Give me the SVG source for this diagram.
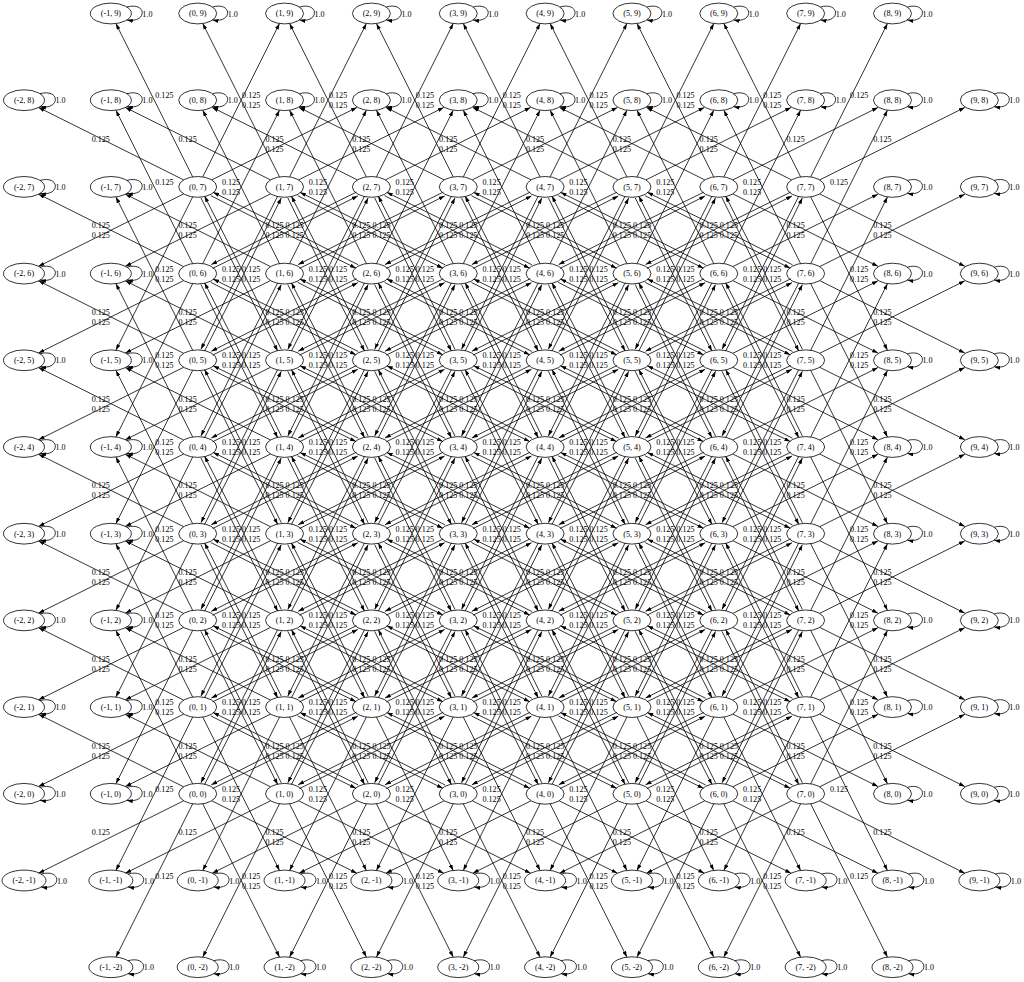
<svg xmlns="http://www.w3.org/2000/svg" width="1024" height="982" viewBox="0 0 1024 982">
<style>
text{font-family:"Liberation Serif","Times New Roman",serif;font-size:8.1px;fill:#000}
.n ellipse{fill:none;stroke:#000;stroke-width:0.8}
.n text{text-anchor:middle}
.e path{fill:none;stroke:#000;stroke-width:0.8;marker-end:url(#ah)}
.ll text{text-anchor:end}
</style>
<defs>
<marker id="ah" viewBox="0 0 6 4" refX="6" refY="2" markerWidth="6" markerHeight="4" orient="auto" markerUnits="userSpaceOnUse"><path d="M0,0L6,2L0,4z" fill="#000"/></marker>
</defs>
<rect width="1024" height="982" fill="#fff"/>
<g id="connectors" class="e">
<g id="e0_0" transform="translate(197.7,793.8)"><path d="M6.81,-9.12Q46.11,-85.36 83.58,-162.39"/><path d="M-5.02,-10.02L-81.79,-163.29"/><path d="M5.02,10.02L81.79,163.29"/><path d="M-5.02,10.02L-81.79,163.29"/><path d="M14.94,-5.22Q88.19,-40.67 160.09,-77.67"/><path d="M-14.05,-7.01L-159.2,-79.46"/><path d="M14.05,7.01L159.2,79.46"/><path d="M-14.05,7.01L-159.2,79.46"/></g>
<g id="e1_0" transform="translate(284.55,793.8)"><path d="M6.81,-9.12Q46.11,-85.36 83.58,-162.39"/><path d="M-3.23,-10.92Q-40.74,-88.04 -80,-164.19"/><path d="M5.02,10.02L81.79,163.29"/><path d="M-5.02,10.02L-81.79,163.29"/><path d="M14.94,-5.22Q88.19,-40.67 160.09,-77.67"/><path d="M-14.05,-7.01L-159.2,-79.46"/><path d="M14.05,7.01L159.2,79.46"/><path d="M-14.05,7.01L-159.2,79.46"/></g>
<g id="e2_0" transform="translate(371.4,793.8)"><path d="M6.81,-9.12Q46.11,-85.36 83.58,-162.39"/><path d="M-3.23,-10.92Q-40.74,-88.04 -80,-164.19"/><path d="M5.02,10.02L81.79,163.29"/><path d="M-5.02,10.02L-81.79,163.29"/><path d="M14.94,-5.22Q88.19,-40.67 160.09,-77.67"/><path d="M-13.16,-8.8Q-85.51,-46.03 -158.31,-81.25"/><path d="M14.05,7.01L159.2,79.46"/><path d="M-14.05,7.01L-159.2,79.46"/></g>
<g id="e3_0" transform="translate(458.25,793.8)"><path d="M6.81,-9.12Q46.11,-85.36 83.58,-162.39"/><path d="M-3.23,-10.92Q-40.74,-88.04 -80,-164.19"/><path d="M5.02,10.02L81.79,163.29"/><path d="M-5.02,10.02L-81.79,163.29"/><path d="M14.94,-5.22Q88.19,-40.67 160.09,-77.67"/><path d="M-13.16,-8.8Q-85.51,-46.03 -158.31,-81.25"/><path d="M14.05,7.01L159.2,79.46"/><path d="M-14.05,7.01L-159.2,79.46"/></g>
<g id="e4_0" transform="translate(545.1,793.8)"><path d="M6.81,-9.12Q46.11,-85.36 83.58,-162.39"/><path d="M-3.23,-10.92Q-40.74,-88.04 -80,-164.19"/><path d="M5.02,10.02L81.79,163.29"/><path d="M-5.02,10.02L-81.79,163.29"/><path d="M14.94,-5.22Q88.19,-40.67 160.09,-77.67"/><path d="M-13.16,-8.8Q-85.51,-46.03 -158.31,-81.25"/><path d="M14.05,7.01L159.2,79.46"/><path d="M-14.05,7.01L-159.2,79.46"/></g>
<g id="e5_0" transform="translate(631.95,793.8)"><path d="M6.81,-9.12Q46.11,-85.36 83.58,-162.39"/><path d="M-3.23,-10.92Q-40.74,-88.04 -80,-164.19"/><path d="M5.02,10.02L81.79,163.29"/><path d="M-5.02,10.02L-81.79,163.29"/><path d="M14.94,-5.22Q88.19,-40.67 160.09,-77.67"/><path d="M-13.16,-8.8Q-85.51,-46.03 -158.31,-81.25"/><path d="M14.05,7.01L159.2,79.46"/><path d="M-14.05,7.01L-159.2,79.46"/></g>
<g id="e6_0" transform="translate(718.8,793.8)"><path d="M6.81,-9.12Q46.11,-85.36 83.58,-162.39"/><path d="M-3.23,-10.92Q-40.74,-88.04 -80,-164.19"/><path d="M5.02,10.02L81.79,163.29"/><path d="M-5.02,10.02L-81.79,163.29"/><path d="M14.05,-7.01L159.2,-79.46"/><path d="M-13.16,-8.8Q-85.51,-46.03 -158.31,-81.25"/><path d="M14.05,7.01L159.2,79.46"/><path d="M-14.05,7.01L-159.2,79.46"/></g>
<g id="e7_0" transform="translate(805.65,793.8)"><path d="M5.02,-10.02L81.79,-163.29"/><path d="M-3.23,-10.92Q-40.74,-88.04 -80,-164.19"/><path d="M5.02,10.02L81.79,163.29"/><path d="M-5.02,10.02L-81.79,163.29"/><path d="M14.05,-7.01L159.2,-79.46"/><path d="M-13.16,-8.8Q-85.51,-46.03 -158.31,-81.25"/><path d="M14.05,7.01L159.2,79.46"/><path d="M-14.05,7.01L-159.2,79.46"/></g>
<g id="e0_1" transform="translate(197.7,707.1)"><path d="M6.81,-9.12Q46.11,-85.36 83.58,-162.39"/><path d="M-5.02,-10.02L-81.79,-163.29"/><path d="M5.02,10.02L81.79,163.29"/><path d="M-5.02,10.02L-81.79,163.29"/><path d="M14.94,-5.22Q88.19,-40.67 160.09,-77.67"/><path d="M-14.05,-7.01L-159.2,-79.46"/><path d="M13.16,8.8Q85.51,46.03 158.31,81.25"/><path d="M-14.05,7.01L-159.2,79.46"/></g>
<g id="e1_1" transform="translate(284.55,707.1)"><path d="M6.81,-9.12Q46.11,-85.36 83.58,-162.39"/><path d="M-3.23,-10.92Q-40.74,-88.04 -80,-164.19"/><path d="M5.02,10.02L81.79,163.29"/><path d="M-5.02,10.02L-81.79,163.29"/><path d="M14.94,-5.22Q88.19,-40.67 160.09,-77.67"/><path d="M-14.05,-7.01L-159.2,-79.46"/><path d="M13.16,8.8Q85.51,46.03 158.31,81.25"/><path d="M-14.05,7.01L-159.2,79.46"/></g>
<g id="e2_1" transform="translate(371.4,707.1)"><path d="M6.81,-9.12Q46.11,-85.36 83.58,-162.39"/><path d="M-3.23,-10.92Q-40.74,-88.04 -80,-164.19"/><path d="M5.02,10.02L81.79,163.29"/><path d="M-5.02,10.02L-81.79,163.29"/><path d="M14.94,-5.22Q88.19,-40.67 160.09,-77.67"/><path d="M-13.16,-8.8Q-85.51,-46.03 -158.31,-81.25"/><path d="M13.16,8.8Q85.51,46.03 158.31,81.25"/><path d="M-14.94,5.22Q-88.19,40.67 -160.09,77.67"/></g>
<g id="e3_1" transform="translate(458.25,707.1)"><path d="M6.81,-9.12Q46.11,-85.36 83.58,-162.39"/><path d="M-3.23,-10.92Q-40.74,-88.04 -80,-164.19"/><path d="M5.02,10.02L81.79,163.29"/><path d="M-5.02,10.02L-81.79,163.29"/><path d="M14.94,-5.22Q88.19,-40.67 160.09,-77.67"/><path d="M-13.16,-8.8Q-85.51,-46.03 -158.31,-81.25"/><path d="M13.16,8.8Q85.51,46.03 158.31,81.25"/><path d="M-14.94,5.22Q-88.19,40.67 -160.09,77.67"/></g>
<g id="e4_1" transform="translate(545.1,707.1)"><path d="M6.81,-9.12Q46.11,-85.36 83.58,-162.39"/><path d="M-3.23,-10.92Q-40.74,-88.04 -80,-164.19"/><path d="M5.02,10.02L81.79,163.29"/><path d="M-5.02,10.02L-81.79,163.29"/><path d="M14.94,-5.22Q88.19,-40.67 160.09,-77.67"/><path d="M-13.16,-8.8Q-85.51,-46.03 -158.31,-81.25"/><path d="M13.16,8.8Q85.51,46.03 158.31,81.25"/><path d="M-14.94,5.22Q-88.19,40.67 -160.09,77.67"/></g>
<g id="e5_1" transform="translate(631.95,707.1)"><path d="M6.81,-9.12Q46.11,-85.36 83.58,-162.39"/><path d="M-3.23,-10.92Q-40.74,-88.04 -80,-164.19"/><path d="M5.02,10.02L81.79,163.29"/><path d="M-5.02,10.02L-81.79,163.29"/><path d="M14.94,-5.22Q88.19,-40.67 160.09,-77.67"/><path d="M-13.16,-8.8Q-85.51,-46.03 -158.31,-81.25"/><path d="M13.16,8.8Q85.51,46.03 158.31,81.25"/><path d="M-14.94,5.22Q-88.19,40.67 -160.09,77.67"/></g>
<g id="e6_1" transform="translate(718.8,707.1)"><path d="M6.81,-9.12Q46.11,-85.36 83.58,-162.39"/><path d="M-3.23,-10.92Q-40.74,-88.04 -80,-164.19"/><path d="M5.02,10.02L81.79,163.29"/><path d="M-5.02,10.02L-81.79,163.29"/><path d="M14.05,-7.01L159.2,-79.46"/><path d="M-13.16,-8.8Q-85.51,-46.03 -158.31,-81.25"/><path d="M14.05,7.01L159.2,79.46"/><path d="M-14.94,5.22Q-88.19,40.67 -160.09,77.67"/></g>
<g id="e7_1" transform="translate(805.65,707.1)"><path d="M5.02,-10.02L81.79,-163.29"/><path d="M-3.23,-10.92Q-40.74,-88.04 -80,-164.19"/><path d="M5.02,10.02L81.79,163.29"/><path d="M-5.02,10.02L-81.79,163.29"/><path d="M14.05,-7.01L159.2,-79.46"/><path d="M-13.16,-8.8Q-85.51,-46.03 -158.31,-81.25"/><path d="M14.05,7.01L159.2,79.46"/><path d="M-14.94,5.22Q-88.19,40.67 -160.09,77.67"/></g>
<g id="e0_2" transform="translate(197.7,620.4)"><path d="M6.81,-9.12Q46.11,-85.36 83.58,-162.39"/><path d="M-5.02,-10.02L-81.79,-163.29"/><path d="M3.23,10.92Q40.74,88.04 80,164.19"/><path d="M-5.02,10.02L-81.79,163.29"/><path d="M14.94,-5.22Q88.19,-40.67 160.09,-77.67"/><path d="M-14.05,-7.01L-159.2,-79.46"/><path d="M13.16,8.8Q85.51,46.03 158.31,81.25"/><path d="M-14.05,7.01L-159.2,79.46"/></g>
<g id="e1_2" transform="translate(284.55,620.4)"><path d="M6.81,-9.12Q46.11,-85.36 83.58,-162.39"/><path d="M-3.23,-10.92Q-40.74,-88.04 -80,-164.19"/><path d="M3.23,10.92Q40.74,88.04 80,164.19"/><path d="M-6.81,9.12Q-46.11,85.36 -83.58,162.39"/><path d="M14.94,-5.22Q88.19,-40.67 160.09,-77.67"/><path d="M-14.05,-7.01L-159.2,-79.46"/><path d="M13.16,8.8Q85.51,46.03 158.31,81.25"/><path d="M-14.05,7.01L-159.2,79.46"/></g>
<g id="e2_2" transform="translate(371.4,620.4)"><path d="M6.81,-9.12Q46.11,-85.36 83.58,-162.39"/><path d="M-3.23,-10.92Q-40.74,-88.04 -80,-164.19"/><path d="M3.23,10.92Q40.74,88.04 80,164.19"/><path d="M-6.81,9.12Q-46.11,85.36 -83.58,162.39"/><path d="M14.94,-5.22Q88.19,-40.67 160.09,-77.67"/><path d="M-13.16,-8.8Q-85.51,-46.03 -158.31,-81.25"/><path d="M13.16,8.8Q85.51,46.03 158.31,81.25"/><path d="M-14.94,5.22Q-88.19,40.67 -160.09,77.67"/></g>
<g id="e3_2" transform="translate(458.25,620.4)"><path d="M6.81,-9.12Q46.11,-85.36 83.58,-162.39"/><path d="M-3.23,-10.92Q-40.74,-88.04 -80,-164.19"/><path d="M3.23,10.92Q40.74,88.04 80,164.19"/><path d="M-6.81,9.12Q-46.11,85.36 -83.58,162.39"/><path d="M14.94,-5.22Q88.19,-40.67 160.09,-77.67"/><path d="M-13.16,-8.8Q-85.51,-46.03 -158.31,-81.25"/><path d="M13.16,8.8Q85.51,46.03 158.31,81.25"/><path d="M-14.94,5.22Q-88.19,40.67 -160.09,77.67"/></g>
<g id="e4_2" transform="translate(545.1,620.4)"><path d="M6.81,-9.12Q46.11,-85.36 83.58,-162.39"/><path d="M-3.23,-10.92Q-40.74,-88.04 -80,-164.19"/><path d="M3.23,10.92Q40.74,88.04 80,164.19"/><path d="M-6.81,9.12Q-46.11,85.36 -83.58,162.39"/><path d="M14.94,-5.22Q88.19,-40.67 160.09,-77.67"/><path d="M-13.16,-8.8Q-85.51,-46.03 -158.31,-81.25"/><path d="M13.16,8.8Q85.51,46.03 158.31,81.25"/><path d="M-14.94,5.22Q-88.19,40.67 -160.09,77.67"/></g>
<g id="e5_2" transform="translate(631.95,620.4)"><path d="M6.81,-9.12Q46.11,-85.36 83.58,-162.39"/><path d="M-3.23,-10.92Q-40.74,-88.04 -80,-164.19"/><path d="M3.23,10.92Q40.74,88.04 80,164.19"/><path d="M-6.81,9.12Q-46.11,85.36 -83.58,162.39"/><path d="M14.94,-5.22Q88.19,-40.67 160.09,-77.67"/><path d="M-13.16,-8.8Q-85.51,-46.03 -158.31,-81.25"/><path d="M13.16,8.8Q85.51,46.03 158.31,81.25"/><path d="M-14.94,5.22Q-88.19,40.67 -160.09,77.67"/></g>
<g id="e6_2" transform="translate(718.8,620.4)"><path d="M6.81,-9.12Q46.11,-85.36 83.58,-162.39"/><path d="M-3.23,-10.92Q-40.74,-88.04 -80,-164.19"/><path d="M3.23,10.92Q40.74,88.04 80,164.19"/><path d="M-6.81,9.12Q-46.11,85.36 -83.58,162.39"/><path d="M14.05,-7.01L159.2,-79.46"/><path d="M-13.16,-8.8Q-85.51,-46.03 -158.31,-81.25"/><path d="M14.05,7.01L159.2,79.46"/><path d="M-14.94,5.22Q-88.19,40.67 -160.09,77.67"/></g>
<g id="e7_2" transform="translate(805.65,620.4)"><path d="M5.02,-10.02L81.79,-163.29"/><path d="M-3.23,-10.92Q-40.74,-88.04 -80,-164.19"/><path d="M5.02,10.02L81.79,163.29"/><path d="M-6.81,9.12Q-46.11,85.36 -83.58,162.39"/><path d="M14.05,-7.01L159.2,-79.46"/><path d="M-13.16,-8.8Q-85.51,-46.03 -158.31,-81.25"/><path d="M14.05,7.01L159.2,79.46"/><path d="M-14.94,5.22Q-88.19,40.67 -160.09,77.67"/></g>
<g id="e0_3" transform="translate(197.7,533.7)"><path d="M6.81,-9.12Q46.11,-85.36 83.58,-162.39"/><path d="M-5.02,-10.02L-81.79,-163.29"/><path d="M3.23,10.92Q40.74,88.04 80,164.19"/><path d="M-5.02,10.02L-81.79,163.29"/><path d="M14.94,-5.22Q88.19,-40.67 160.09,-77.67"/><path d="M-14.05,-7.01L-159.2,-79.46"/><path d="M13.16,8.8Q85.51,46.03 158.31,81.25"/><path d="M-14.05,7.01L-159.2,79.46"/></g>
<g id="e1_3" transform="translate(284.55,533.7)"><path d="M6.81,-9.12Q46.11,-85.36 83.58,-162.39"/><path d="M-3.23,-10.92Q-40.74,-88.04 -80,-164.19"/><path d="M3.23,10.92Q40.74,88.04 80,164.19"/><path d="M-6.81,9.12Q-46.11,85.36 -83.58,162.39"/><path d="M14.94,-5.22Q88.19,-40.67 160.09,-77.67"/><path d="M-14.05,-7.01L-159.2,-79.46"/><path d="M13.16,8.8Q85.51,46.03 158.31,81.25"/><path d="M-14.05,7.01L-159.2,79.46"/></g>
<g id="e2_3" transform="translate(371.4,533.7)"><path d="M6.81,-9.12Q46.11,-85.36 83.58,-162.39"/><path d="M-3.23,-10.92Q-40.74,-88.04 -80,-164.19"/><path d="M3.23,10.92Q40.74,88.04 80,164.19"/><path d="M-6.81,9.12Q-46.11,85.36 -83.58,162.39"/><path d="M14.94,-5.22Q88.19,-40.67 160.09,-77.67"/><path d="M-13.16,-8.8Q-85.51,-46.03 -158.31,-81.25"/><path d="M13.16,8.8Q85.51,46.03 158.31,81.25"/><path d="M-14.94,5.22Q-88.19,40.67 -160.09,77.67"/></g>
<g id="e3_3" transform="translate(458.25,533.7)"><path d="M6.81,-9.12Q46.11,-85.36 83.58,-162.39"/><path d="M-3.23,-10.92Q-40.74,-88.04 -80,-164.19"/><path d="M3.23,10.92Q40.74,88.04 80,164.19"/><path d="M-6.81,9.12Q-46.11,85.36 -83.58,162.39"/><path d="M14.94,-5.22Q88.19,-40.67 160.09,-77.67"/><path d="M-13.16,-8.8Q-85.51,-46.03 -158.31,-81.25"/><path d="M13.16,8.8Q85.51,46.03 158.31,81.25"/><path d="M-14.94,5.22Q-88.19,40.67 -160.09,77.67"/></g>
<g id="e4_3" transform="translate(545.1,533.7)"><path d="M6.81,-9.12Q46.11,-85.36 83.58,-162.39"/><path d="M-3.23,-10.92Q-40.74,-88.04 -80,-164.19"/><path d="M3.23,10.92Q40.74,88.04 80,164.19"/><path d="M-6.81,9.12Q-46.11,85.36 -83.58,162.39"/><path d="M14.94,-5.22Q88.19,-40.67 160.09,-77.67"/><path d="M-13.16,-8.8Q-85.51,-46.03 -158.31,-81.25"/><path d="M13.16,8.8Q85.51,46.03 158.31,81.25"/><path d="M-14.94,5.22Q-88.19,40.67 -160.09,77.67"/></g>
<g id="e5_3" transform="translate(631.95,533.7)"><path d="M6.81,-9.12Q46.11,-85.36 83.58,-162.39"/><path d="M-3.23,-10.92Q-40.74,-88.04 -80,-164.19"/><path d="M3.23,10.92Q40.74,88.04 80,164.19"/><path d="M-6.81,9.12Q-46.11,85.36 -83.58,162.39"/><path d="M14.94,-5.22Q88.19,-40.67 160.09,-77.67"/><path d="M-13.16,-8.8Q-85.51,-46.03 -158.31,-81.25"/><path d="M13.16,8.8Q85.51,46.03 158.31,81.25"/><path d="M-14.94,5.22Q-88.19,40.67 -160.09,77.67"/></g>
<g id="e6_3" transform="translate(718.8,533.7)"><path d="M6.81,-9.12Q46.11,-85.36 83.58,-162.39"/><path d="M-3.23,-10.92Q-40.74,-88.04 -80,-164.19"/><path d="M3.23,10.92Q40.74,88.04 80,164.19"/><path d="M-6.81,9.12Q-46.11,85.36 -83.58,162.39"/><path d="M14.05,-7.01L159.2,-79.46"/><path d="M-13.16,-8.8Q-85.51,-46.03 -158.31,-81.25"/><path d="M14.05,7.01L159.2,79.46"/><path d="M-14.94,5.22Q-88.19,40.67 -160.09,77.67"/></g>
<g id="e7_3" transform="translate(805.65,533.7)"><path d="M5.02,-10.02L81.79,-163.29"/><path d="M-3.23,-10.92Q-40.74,-88.04 -80,-164.19"/><path d="M5.02,10.02L81.79,163.29"/><path d="M-6.81,9.12Q-46.11,85.36 -83.58,162.39"/><path d="M14.05,-7.01L159.2,-79.46"/><path d="M-13.16,-8.8Q-85.51,-46.03 -158.31,-81.25"/><path d="M14.05,7.01L159.2,79.46"/><path d="M-14.94,5.22Q-88.19,40.67 -160.09,77.67"/></g>
<g id="e0_4" transform="translate(197.7,447)"><path d="M6.81,-9.12Q46.11,-85.36 83.58,-162.39"/><path d="M-5.02,-10.02L-81.79,-163.29"/><path d="M3.23,10.92Q40.74,88.04 80,164.19"/><path d="M-5.02,10.02L-81.79,163.29"/><path d="M14.94,-5.22Q88.19,-40.67 160.09,-77.67"/><path d="M-14.05,-7.01L-159.2,-79.46"/><path d="M13.16,8.8Q85.51,46.03 158.31,81.25"/><path d="M-14.05,7.01L-159.2,79.46"/></g>
<g id="e1_4" transform="translate(284.55,447)"><path d="M6.81,-9.12Q46.11,-85.36 83.58,-162.39"/><path d="M-3.23,-10.92Q-40.74,-88.04 -80,-164.19"/><path d="M3.23,10.92Q40.74,88.04 80,164.19"/><path d="M-6.81,9.12Q-46.11,85.36 -83.58,162.39"/><path d="M14.94,-5.22Q88.19,-40.67 160.09,-77.67"/><path d="M-14.05,-7.01L-159.2,-79.46"/><path d="M13.16,8.8Q85.51,46.03 158.31,81.25"/><path d="M-14.05,7.01L-159.2,79.46"/></g>
<g id="e2_4" transform="translate(371.4,447)"><path d="M6.81,-9.12Q46.11,-85.36 83.58,-162.39"/><path d="M-3.23,-10.92Q-40.74,-88.04 -80,-164.19"/><path d="M3.23,10.92Q40.74,88.04 80,164.19"/><path d="M-6.81,9.12Q-46.11,85.36 -83.58,162.39"/><path d="M14.94,-5.22Q88.19,-40.67 160.09,-77.67"/><path d="M-13.16,-8.8Q-85.51,-46.03 -158.31,-81.25"/><path d="M13.16,8.8Q85.51,46.03 158.31,81.25"/><path d="M-14.94,5.22Q-88.19,40.67 -160.09,77.67"/></g>
<g id="e3_4" transform="translate(458.25,447)"><path d="M6.81,-9.12Q46.11,-85.36 83.58,-162.39"/><path d="M-3.23,-10.92Q-40.74,-88.04 -80,-164.19"/><path d="M3.23,10.92Q40.74,88.04 80,164.19"/><path d="M-6.81,9.12Q-46.11,85.36 -83.58,162.39"/><path d="M14.94,-5.22Q88.19,-40.67 160.09,-77.67"/><path d="M-13.16,-8.8Q-85.51,-46.03 -158.31,-81.25"/><path d="M13.16,8.8Q85.51,46.03 158.31,81.25"/><path d="M-14.94,5.22Q-88.19,40.67 -160.09,77.67"/></g>
<g id="e4_4" transform="translate(545.1,447)"><path d="M6.81,-9.12Q46.11,-85.36 83.58,-162.39"/><path d="M-3.23,-10.92Q-40.74,-88.04 -80,-164.19"/><path d="M3.23,10.92Q40.74,88.04 80,164.19"/><path d="M-6.81,9.12Q-46.11,85.36 -83.58,162.39"/><path d="M14.94,-5.22Q88.19,-40.67 160.09,-77.67"/><path d="M-13.16,-8.8Q-85.51,-46.03 -158.31,-81.25"/><path d="M13.16,8.8Q85.51,46.03 158.31,81.25"/><path d="M-14.94,5.22Q-88.19,40.67 -160.09,77.67"/></g>
<g id="e5_4" transform="translate(631.95,447)"><path d="M6.81,-9.12Q46.11,-85.36 83.58,-162.39"/><path d="M-3.23,-10.92Q-40.74,-88.04 -80,-164.19"/><path d="M3.23,10.92Q40.74,88.04 80,164.19"/><path d="M-6.81,9.12Q-46.11,85.36 -83.58,162.39"/><path d="M14.94,-5.22Q88.19,-40.67 160.09,-77.67"/><path d="M-13.16,-8.8Q-85.51,-46.03 -158.31,-81.25"/><path d="M13.16,8.8Q85.51,46.03 158.31,81.25"/><path d="M-14.94,5.22Q-88.19,40.67 -160.09,77.67"/></g>
<g id="e6_4" transform="translate(718.8,447)"><path d="M6.81,-9.12Q46.11,-85.36 83.58,-162.39"/><path d="M-3.23,-10.92Q-40.74,-88.04 -80,-164.19"/><path d="M3.23,10.92Q40.74,88.04 80,164.19"/><path d="M-6.81,9.12Q-46.11,85.36 -83.58,162.39"/><path d="M14.05,-7.01L159.2,-79.46"/><path d="M-13.16,-8.8Q-85.51,-46.03 -158.31,-81.25"/><path d="M14.05,7.01L159.2,79.46"/><path d="M-14.94,5.22Q-88.19,40.67 -160.09,77.67"/></g>
<g id="e7_4" transform="translate(805.65,447)"><path d="M5.02,-10.02L81.79,-163.29"/><path d="M-3.23,-10.92Q-40.74,-88.04 -80,-164.19"/><path d="M5.02,10.02L81.79,163.29"/><path d="M-6.81,9.12Q-46.11,85.36 -83.58,162.39"/><path d="M14.05,-7.01L159.2,-79.46"/><path d="M-13.16,-8.8Q-85.51,-46.03 -158.31,-81.25"/><path d="M14.05,7.01L159.2,79.46"/><path d="M-14.94,5.22Q-88.19,40.67 -160.09,77.67"/></g>
<g id="e0_5" transform="translate(197.7,360.3)"><path d="M6.81,-9.12Q46.11,-85.36 83.58,-162.39"/><path d="M-5.02,-10.02L-81.79,-163.29"/><path d="M3.23,10.92Q40.74,88.04 80,164.19"/><path d="M-5.02,10.02L-81.79,163.29"/><path d="M14.94,-5.22Q88.19,-40.67 160.09,-77.67"/><path d="M-14.05,-7.01L-159.2,-79.46"/><path d="M13.16,8.8Q85.51,46.03 158.31,81.25"/><path d="M-14.05,7.01L-159.2,79.46"/></g>
<g id="e1_5" transform="translate(284.55,360.3)"><path d="M6.81,-9.12Q46.11,-85.36 83.58,-162.39"/><path d="M-3.23,-10.92Q-40.74,-88.04 -80,-164.19"/><path d="M3.23,10.92Q40.74,88.04 80,164.19"/><path d="M-6.81,9.12Q-46.11,85.36 -83.58,162.39"/><path d="M14.94,-5.22Q88.19,-40.67 160.09,-77.67"/><path d="M-14.05,-7.01L-159.2,-79.46"/><path d="M13.16,8.8Q85.51,46.03 158.31,81.25"/><path d="M-14.05,7.01L-159.2,79.46"/></g>
<g id="e2_5" transform="translate(371.4,360.3)"><path d="M6.81,-9.12Q46.11,-85.36 83.58,-162.39"/><path d="M-3.23,-10.92Q-40.74,-88.04 -80,-164.19"/><path d="M3.23,10.92Q40.74,88.04 80,164.19"/><path d="M-6.81,9.12Q-46.11,85.36 -83.58,162.39"/><path d="M14.94,-5.22Q88.19,-40.67 160.09,-77.67"/><path d="M-13.16,-8.8Q-85.51,-46.03 -158.31,-81.25"/><path d="M13.16,8.8Q85.51,46.03 158.31,81.25"/><path d="M-14.94,5.22Q-88.19,40.67 -160.09,77.67"/></g>
<g id="e3_5" transform="translate(458.25,360.3)"><path d="M6.81,-9.12Q46.11,-85.36 83.58,-162.39"/><path d="M-3.23,-10.92Q-40.74,-88.04 -80,-164.19"/><path d="M3.23,10.92Q40.74,88.04 80,164.19"/><path d="M-6.81,9.12Q-46.11,85.36 -83.58,162.39"/><path d="M14.94,-5.22Q88.19,-40.67 160.09,-77.67"/><path d="M-13.16,-8.8Q-85.51,-46.03 -158.31,-81.25"/><path d="M13.16,8.8Q85.51,46.03 158.31,81.25"/><path d="M-14.94,5.22Q-88.19,40.67 -160.09,77.67"/></g>
<g id="e4_5" transform="translate(545.1,360.3)"><path d="M6.81,-9.12Q46.11,-85.36 83.58,-162.39"/><path d="M-3.23,-10.92Q-40.74,-88.04 -80,-164.19"/><path d="M3.23,10.92Q40.74,88.04 80,164.19"/><path d="M-6.81,9.12Q-46.11,85.36 -83.58,162.39"/><path d="M14.94,-5.22Q88.19,-40.67 160.09,-77.67"/><path d="M-13.16,-8.8Q-85.51,-46.03 -158.31,-81.25"/><path d="M13.16,8.8Q85.51,46.03 158.31,81.25"/><path d="M-14.94,5.22Q-88.19,40.67 -160.09,77.67"/></g>
<g id="e5_5" transform="translate(631.95,360.3)"><path d="M6.81,-9.12Q46.11,-85.36 83.58,-162.39"/><path d="M-3.23,-10.92Q-40.74,-88.04 -80,-164.19"/><path d="M3.23,10.92Q40.74,88.04 80,164.19"/><path d="M-6.81,9.12Q-46.11,85.36 -83.58,162.39"/><path d="M14.94,-5.22Q88.19,-40.67 160.09,-77.67"/><path d="M-13.16,-8.8Q-85.51,-46.03 -158.31,-81.25"/><path d="M13.16,8.8Q85.51,46.03 158.31,81.25"/><path d="M-14.94,5.22Q-88.19,40.67 -160.09,77.67"/></g>
<g id="e6_5" transform="translate(718.8,360.3)"><path d="M6.81,-9.12Q46.11,-85.36 83.58,-162.39"/><path d="M-3.23,-10.92Q-40.74,-88.04 -80,-164.19"/><path d="M3.23,10.92Q40.74,88.04 80,164.19"/><path d="M-6.81,9.12Q-46.11,85.36 -83.58,162.39"/><path d="M14.05,-7.01L159.2,-79.46"/><path d="M-13.16,-8.8Q-85.51,-46.03 -158.31,-81.25"/><path d="M14.05,7.01L159.2,79.46"/><path d="M-14.94,5.22Q-88.19,40.67 -160.09,77.67"/></g>
<g id="e7_5" transform="translate(805.65,360.3)"><path d="M5.02,-10.02L81.79,-163.29"/><path d="M-3.23,-10.92Q-40.74,-88.04 -80,-164.19"/><path d="M5.02,10.02L81.79,163.29"/><path d="M-6.81,9.12Q-46.11,85.36 -83.58,162.39"/><path d="M14.05,-7.01L159.2,-79.46"/><path d="M-13.16,-8.8Q-85.51,-46.03 -158.31,-81.25"/><path d="M14.05,7.01L159.2,79.46"/><path d="M-14.94,5.22Q-88.19,40.67 -160.09,77.67"/></g>
<g id="e0_6" transform="translate(197.7,273.6)"><path d="M5.02,-10.02L81.79,-163.29"/><path d="M-5.02,-10.02L-81.79,-163.29"/><path d="M3.23,10.92Q40.74,88.04 80,164.19"/><path d="M-5.02,10.02L-81.79,163.29"/><path d="M14.94,-5.22Q88.19,-40.67 160.09,-77.67"/><path d="M-14.05,-7.01L-159.2,-79.46"/><path d="M13.16,8.8Q85.51,46.03 158.31,81.25"/><path d="M-14.05,7.01L-159.2,79.46"/></g>
<g id="e1_6" transform="translate(284.55,273.6)"><path d="M5.02,-10.02L81.79,-163.29"/><path d="M-5.02,-10.02L-81.79,-163.29"/><path d="M3.23,10.92Q40.74,88.04 80,164.19"/><path d="M-6.81,9.12Q-46.11,85.36 -83.58,162.39"/><path d="M14.94,-5.22Q88.19,-40.67 160.09,-77.67"/><path d="M-14.05,-7.01L-159.2,-79.46"/><path d="M13.16,8.8Q85.51,46.03 158.31,81.25"/><path d="M-14.05,7.01L-159.2,79.46"/></g>
<g id="e2_6" transform="translate(371.4,273.6)"><path d="M5.02,-10.02L81.79,-163.29"/><path d="M-5.02,-10.02L-81.79,-163.29"/><path d="M3.23,10.92Q40.74,88.04 80,164.19"/><path d="M-6.81,9.12Q-46.11,85.36 -83.58,162.39"/><path d="M14.94,-5.22Q88.19,-40.67 160.09,-77.67"/><path d="M-13.16,-8.8Q-85.51,-46.03 -158.31,-81.25"/><path d="M13.16,8.8Q85.51,46.03 158.31,81.25"/><path d="M-14.94,5.22Q-88.19,40.67 -160.09,77.67"/></g>
<g id="e3_6" transform="translate(458.25,273.6)"><path d="M5.02,-10.02L81.79,-163.29"/><path d="M-5.02,-10.02L-81.79,-163.29"/><path d="M3.23,10.92Q40.74,88.04 80,164.19"/><path d="M-6.81,9.12Q-46.11,85.36 -83.58,162.39"/><path d="M14.94,-5.22Q88.19,-40.67 160.09,-77.67"/><path d="M-13.16,-8.8Q-85.51,-46.03 -158.31,-81.25"/><path d="M13.16,8.8Q85.51,46.03 158.31,81.25"/><path d="M-14.94,5.22Q-88.19,40.67 -160.09,77.67"/></g>
<g id="e4_6" transform="translate(545.1,273.6)"><path d="M5.02,-10.02L81.79,-163.29"/><path d="M-5.02,-10.02L-81.79,-163.29"/><path d="M3.23,10.92Q40.74,88.04 80,164.19"/><path d="M-6.81,9.12Q-46.11,85.36 -83.58,162.39"/><path d="M14.94,-5.22Q88.19,-40.67 160.09,-77.67"/><path d="M-13.16,-8.8Q-85.51,-46.03 -158.31,-81.25"/><path d="M13.16,8.8Q85.51,46.03 158.31,81.25"/><path d="M-14.94,5.22Q-88.19,40.67 -160.09,77.67"/></g>
<g id="e5_6" transform="translate(631.95,273.6)"><path d="M5.02,-10.02L81.79,-163.29"/><path d="M-5.02,-10.02L-81.79,-163.29"/><path d="M3.23,10.92Q40.74,88.04 80,164.19"/><path d="M-6.81,9.12Q-46.11,85.36 -83.58,162.39"/><path d="M14.94,-5.22Q88.19,-40.67 160.09,-77.67"/><path d="M-13.16,-8.8Q-85.51,-46.03 -158.31,-81.25"/><path d="M13.16,8.8Q85.51,46.03 158.31,81.25"/><path d="M-14.94,5.22Q-88.19,40.67 -160.09,77.67"/></g>
<g id="e6_6" transform="translate(718.8,273.6)"><path d="M5.02,-10.02L81.79,-163.29"/><path d="M-5.02,-10.02L-81.79,-163.29"/><path d="M3.23,10.92Q40.74,88.04 80,164.19"/><path d="M-6.81,9.12Q-46.11,85.36 -83.58,162.39"/><path d="M14.05,-7.01L159.2,-79.46"/><path d="M-13.16,-8.8Q-85.51,-46.03 -158.31,-81.25"/><path d="M14.05,7.01L159.2,79.46"/><path d="M-14.94,5.22Q-88.19,40.67 -160.09,77.67"/></g>
<g id="e7_6" transform="translate(805.65,273.6)"><path d="M5.02,-10.02L81.79,-163.29"/><path d="M-5.02,-10.02L-81.79,-163.29"/><path d="M5.02,10.02L81.79,163.29"/><path d="M-6.81,9.12Q-46.11,85.36 -83.58,162.39"/><path d="M14.05,-7.01L159.2,-79.46"/><path d="M-13.16,-8.8Q-85.51,-46.03 -158.31,-81.25"/><path d="M14.05,7.01L159.2,79.46"/><path d="M-14.94,5.22Q-88.19,40.67 -160.09,77.67"/></g>
<g id="e0_7" transform="translate(197.7,186.9)"><path d="M5.02,-10.02L81.79,-163.29"/><path d="M-5.02,-10.02L-81.79,-163.29"/><path d="M3.23,10.92Q40.74,88.04 80,164.19"/><path d="M-5.02,10.02L-81.79,163.29"/><path d="M14.05,-7.01L159.2,-79.46"/><path d="M-14.05,-7.01L-159.2,-79.46"/><path d="M13.16,8.8Q85.51,46.03 158.31,81.25"/><path d="M-14.05,7.01L-159.2,79.46"/></g>
<g id="e1_7" transform="translate(284.55,186.9)"><path d="M5.02,-10.02L81.79,-163.29"/><path d="M-5.02,-10.02L-81.79,-163.29"/><path d="M3.23,10.92Q40.74,88.04 80,164.19"/><path d="M-6.81,9.12Q-46.11,85.36 -83.58,162.39"/><path d="M14.05,-7.01L159.2,-79.46"/><path d="M-14.05,-7.01L-159.2,-79.46"/><path d="M13.16,8.8Q85.51,46.03 158.31,81.25"/><path d="M-14.05,7.01L-159.2,79.46"/></g>
<g id="e2_7" transform="translate(371.4,186.9)"><path d="M5.02,-10.02L81.79,-163.29"/><path d="M-5.02,-10.02L-81.79,-163.29"/><path d="M3.23,10.92Q40.74,88.04 80,164.19"/><path d="M-6.81,9.12Q-46.11,85.36 -83.58,162.39"/><path d="M14.05,-7.01L159.2,-79.46"/><path d="M-14.05,-7.01L-159.2,-79.46"/><path d="M13.16,8.8Q85.51,46.03 158.31,81.25"/><path d="M-14.94,5.22Q-88.19,40.67 -160.09,77.67"/></g>
<g id="e3_7" transform="translate(458.25,186.9)"><path d="M5.02,-10.02L81.79,-163.29"/><path d="M-5.02,-10.02L-81.79,-163.29"/><path d="M3.23,10.92Q40.74,88.04 80,164.19"/><path d="M-6.81,9.12Q-46.11,85.36 -83.58,162.39"/><path d="M14.05,-7.01L159.2,-79.46"/><path d="M-14.05,-7.01L-159.2,-79.46"/><path d="M13.16,8.8Q85.51,46.03 158.31,81.25"/><path d="M-14.94,5.22Q-88.19,40.67 -160.09,77.67"/></g>
<g id="e4_7" transform="translate(545.1,186.9)"><path d="M5.02,-10.02L81.79,-163.29"/><path d="M-5.02,-10.02L-81.79,-163.29"/><path d="M3.23,10.92Q40.74,88.04 80,164.19"/><path d="M-6.81,9.12Q-46.11,85.36 -83.58,162.39"/><path d="M14.05,-7.01L159.2,-79.46"/><path d="M-14.05,-7.01L-159.2,-79.46"/><path d="M13.16,8.8Q85.51,46.03 158.31,81.25"/><path d="M-14.94,5.22Q-88.19,40.67 -160.09,77.67"/></g>
<g id="e5_7" transform="translate(631.95,186.9)"><path d="M5.02,-10.02L81.79,-163.29"/><path d="M-5.02,-10.02L-81.79,-163.29"/><path d="M3.23,10.92Q40.74,88.04 80,164.19"/><path d="M-6.81,9.12Q-46.11,85.36 -83.58,162.39"/><path d="M14.05,-7.01L159.2,-79.46"/><path d="M-14.05,-7.01L-159.2,-79.46"/><path d="M13.16,8.8Q85.51,46.03 158.31,81.25"/><path d="M-14.94,5.22Q-88.19,40.67 -160.09,77.67"/></g>
<g id="e6_7" transform="translate(718.8,186.9)"><path d="M5.02,-10.02L81.79,-163.29"/><path d="M-5.02,-10.02L-81.79,-163.29"/><path d="M3.23,10.92Q40.74,88.04 80,164.19"/><path d="M-6.81,9.12Q-46.11,85.36 -83.58,162.39"/><path d="M14.05,-7.01L159.2,-79.46"/><path d="M-14.05,-7.01L-159.2,-79.46"/><path d="M14.05,7.01L159.2,79.46"/><path d="M-14.94,5.22Q-88.19,40.67 -160.09,77.67"/></g>
<g id="e7_7" transform="translate(805.65,186.9)"><path d="M5.02,-10.02L81.79,-163.29"/><path d="M-5.02,-10.02L-81.79,-163.29"/><path d="M5.02,10.02L81.79,163.29"/><path d="M-6.81,9.12Q-46.11,85.36 -83.58,162.39"/><path d="M14.05,-7.01L159.2,-79.46"/><path d="M-14.05,-7.01L-159.2,-79.46"/><path d="M14.05,7.01L159.2,79.46"/><path d="M-14.94,5.22Q-88.19,40.67 -160.09,77.67"/></g>
<g id="self-loops">
<path transform="translate(110.85,13.5)" d="M16,-6.5C36.5,-12 36.5,10 16,6.5"/><path transform="translate(197.7,13.5)" d="M14.8,-6.5C35,-12 35,10 14.8,6.5"/><path transform="translate(284.55,13.5)" d="M14.8,-6.5C35,-12 35,10 14.8,6.5"/><path transform="translate(371.4,13.5)" d="M14.8,-6.5C35,-12 35,10 14.8,6.5"/><path transform="translate(458.25,13.5)" d="M14.8,-6.5C35,-12 35,10 14.8,6.5"/><path transform="translate(545.1,13.5)" d="M14.8,-6.5C35,-12 35,10 14.8,6.5"/><path transform="translate(631.95,13.5)" d="M14.8,-6.5C35,-12 35,10 14.8,6.5"/><path transform="translate(718.8,13.5)" d="M14.8,-6.5C35,-12 35,10 14.8,6.5"/><path transform="translate(805.65,13.5)" d="M14.8,-6.5C35,-12 35,10 14.8,6.5"/><path transform="translate(892.5,13.5)" d="M14.8,-6.5C35,-12 35,10 14.8,6.5"/>
<path transform="translate(24,100.2)" d="M16,-6.5C36.5,-12 36.5,10 16,6.5"/><path transform="translate(110.85,100.2)" d="M16,-6.5C36.5,-12 36.5,10 16,6.5"/><path transform="translate(197.7,100.2)" d="M14.8,-6.5C35,-12 35,10 14.8,6.5"/><path transform="translate(284.55,100.2)" d="M14.8,-6.5C35,-12 35,10 14.8,6.5"/><path transform="translate(371.4,100.2)" d="M14.8,-6.5C35,-12 35,10 14.8,6.5"/><path transform="translate(458.25,100.2)" d="M14.8,-6.5C35,-12 35,10 14.8,6.5"/><path transform="translate(545.1,100.2)" d="M14.8,-6.5C35,-12 35,10 14.8,6.5"/><path transform="translate(631.95,100.2)" d="M14.8,-6.5C35,-12 35,10 14.8,6.5"/><path transform="translate(718.8,100.2)" d="M14.8,-6.5C35,-12 35,10 14.8,6.5"/><path transform="translate(805.65,100.2)" d="M14.8,-6.5C35,-12 35,10 14.8,6.5"/><path transform="translate(892.5,100.2)" d="M14.8,-6.5C35,-12 35,10 14.8,6.5"/><path transform="translate(979.35,100.2)" d="M14.8,-6.5C35,-12 35,10 14.8,6.5"/>
<path transform="translate(24,186.9)" d="M16,-6.5C36.5,-12 36.5,10 16,6.5"/><path transform="translate(110.85,186.9)" d="M16,-6.5C36.5,-12 36.5,10 16,6.5"/><path transform="translate(892.5,186.9)" d="M14.8,-6.5C35,-12 35,10 14.8,6.5"/><path transform="translate(979.35,186.9)" d="M14.8,-6.5C35,-12 35,10 14.8,6.5"/>
<path transform="translate(24,273.6)" d="M16,-6.5C36.5,-12 36.5,10 16,6.5"/><path transform="translate(110.85,273.6)" d="M16,-6.5C36.5,-12 36.5,10 16,6.5"/><path transform="translate(892.5,273.6)" d="M14.8,-6.5C35,-12 35,10 14.8,6.5"/><path transform="translate(979.35,273.6)" d="M14.8,-6.5C35,-12 35,10 14.8,6.5"/>
<path transform="translate(24,360.3)" d="M16,-6.5C36.5,-12 36.5,10 16,6.5"/><path transform="translate(110.85,360.3)" d="M16,-6.5C36.5,-12 36.5,10 16,6.5"/><path transform="translate(892.5,360.3)" d="M14.8,-6.5C35,-12 35,10 14.8,6.5"/><path transform="translate(979.35,360.3)" d="M14.8,-6.5C35,-12 35,10 14.8,6.5"/>
<path transform="translate(24,447)" d="M16,-6.5C36.5,-12 36.5,10 16,6.5"/><path transform="translate(110.85,447)" d="M16,-6.5C36.5,-12 36.5,10 16,6.5"/><path transform="translate(892.5,447)" d="M14.8,-6.5C35,-12 35,10 14.8,6.5"/><path transform="translate(979.35,447)" d="M14.8,-6.5C35,-12 35,10 14.8,6.5"/>
<path transform="translate(24,533.7)" d="M16,-6.5C36.5,-12 36.5,10 16,6.5"/><path transform="translate(110.85,533.7)" d="M16,-6.5C36.5,-12 36.5,10 16,6.5"/><path transform="translate(892.5,533.7)" d="M14.8,-6.5C35,-12 35,10 14.8,6.5"/><path transform="translate(979.35,533.7)" d="M14.8,-6.5C35,-12 35,10 14.8,6.5"/>
<path transform="translate(24,620.4)" d="M16,-6.5C36.5,-12 36.5,10 16,6.5"/><path transform="translate(110.85,620.4)" d="M16,-6.5C36.5,-12 36.5,10 16,6.5"/><path transform="translate(892.5,620.4)" d="M14.8,-6.5C35,-12 35,10 14.8,6.5"/><path transform="translate(979.35,620.4)" d="M14.8,-6.5C35,-12 35,10 14.8,6.5"/>
<path transform="translate(24,707.1)" d="M16,-6.5C36.5,-12 36.5,10 16,6.5"/><path transform="translate(110.85,707.1)" d="M16,-6.5C36.5,-12 36.5,10 16,6.5"/><path transform="translate(892.5,707.1)" d="M14.8,-6.5C35,-12 35,10 14.8,6.5"/><path transform="translate(979.35,707.1)" d="M14.8,-6.5C35,-12 35,10 14.8,6.5"/>
<path transform="translate(24,793.8)" d="M16,-6.5C36.5,-12 36.5,10 16,6.5"/><path transform="translate(110.85,793.8)" d="M16,-6.5C36.5,-12 36.5,10 16,6.5"/><path transform="translate(892.5,793.8)" d="M14.8,-6.5C35,-12 35,10 14.8,6.5"/><path transform="translate(979.35,793.8)" d="M14.8,-6.5C35,-12 35,10 14.8,6.5"/>
<path transform="translate(24,880.5)" d="M17.2,-6.5C38,-12 38,10 17.2,6.5"/><path transform="translate(110.85,880.5)" d="M17.2,-6.5C38,-12 38,10 17.2,6.5"/><path transform="translate(197.7,880.5)" d="M16,-6.5C36.5,-12 36.5,10 16,6.5"/><path transform="translate(284.55,880.5)" d="M16,-6.5C36.5,-12 36.5,10 16,6.5"/><path transform="translate(371.4,880.5)" d="M16,-6.5C36.5,-12 36.5,10 16,6.5"/><path transform="translate(458.25,880.5)" d="M16,-6.5C36.5,-12 36.5,10 16,6.5"/><path transform="translate(545.1,880.5)" d="M16,-6.5C36.5,-12 36.5,10 16,6.5"/><path transform="translate(631.95,880.5)" d="M16,-6.5C36.5,-12 36.5,10 16,6.5"/><path transform="translate(718.8,880.5)" d="M16,-6.5C36.5,-12 36.5,10 16,6.5"/><path transform="translate(805.65,880.5)" d="M16,-6.5C36.5,-12 36.5,10 16,6.5"/><path transform="translate(892.5,880.5)" d="M16,-6.5C36.5,-12 36.5,10 16,6.5"/><path transform="translate(979.35,880.5)" d="M16,-6.5C36.5,-12 36.5,10 16,6.5"/>
<path transform="translate(110.85,967.2)" d="M17.2,-6.5C38,-12 38,10 17.2,6.5"/><path transform="translate(197.7,967.2)" d="M16,-6.5C36.5,-12 36.5,10 16,6.5"/><path transform="translate(284.55,967.2)" d="M16,-6.5C36.5,-12 36.5,10 16,6.5"/><path transform="translate(371.4,967.2)" d="M16,-6.5C36.5,-12 36.5,10 16,6.5"/><path transform="translate(458.25,967.2)" d="M16,-6.5C36.5,-12 36.5,10 16,6.5"/><path transform="translate(545.1,967.2)" d="M16,-6.5C36.5,-12 36.5,10 16,6.5"/><path transform="translate(631.95,967.2)" d="M16,-6.5C36.5,-12 36.5,10 16,6.5"/><path transform="translate(718.8,967.2)" d="M16,-6.5C36.5,-12 36.5,10 16,6.5"/><path transform="translate(805.65,967.2)" d="M16,-6.5C36.5,-12 36.5,10 16,6.5"/><path transform="translate(892.5,967.2)" d="M16,-6.5C36.5,-12 36.5,10 16,6.5"/>
</g>
<g id="loop-labels">
<text x="142.35" y="16.5">1.0</text><text x="227.7" y="16.5">1.0</text><text x="314.55" y="16.5">1.0</text><text x="401.4" y="16.5">1.0</text><text x="488.25" y="16.5">1.0</text><text x="575.1" y="16.5">1.0</text><text x="661.95" y="16.5">1.0</text><text x="748.8" y="16.5">1.0</text><text x="835.65" y="16.5">1.0</text><text x="922.5" y="16.5">1.0</text>
<text x="55.5" y="103.2">1.0</text><text x="142.35" y="103.2">1.0</text><text x="227.7" y="103.2">1.0</text><text x="314.55" y="103.2">1.0</text><text x="401.4" y="103.2">1.0</text><text x="488.25" y="103.2">1.0</text><text x="575.1" y="103.2">1.0</text><text x="661.95" y="103.2">1.0</text><text x="748.8" y="103.2">1.0</text><text x="835.65" y="103.2">1.0</text><text x="922.5" y="103.2">1.0</text><text x="1009.35" y="103.2">1.0</text>
<text x="55.5" y="189.9">1.0</text><text x="142.35" y="189.9">1.0</text><text x="922.5" y="189.9">1.0</text><text x="1009.35" y="189.9">1.0</text>
<text x="55.5" y="276.6">1.0</text><text x="142.35" y="276.6">1.0</text><text x="922.5" y="276.6">1.0</text><text x="1009.35" y="276.6">1.0</text>
<text x="55.5" y="363.3">1.0</text><text x="142.35" y="363.3">1.0</text><text x="922.5" y="363.3">1.0</text><text x="1009.35" y="363.3">1.0</text>
<text x="55.5" y="450">1.0</text><text x="142.35" y="450">1.0</text><text x="922.5" y="450">1.0</text><text x="1009.35" y="450">1.0</text>
<text x="55.5" y="536.7">1.0</text><text x="142.35" y="536.7">1.0</text><text x="922.5" y="536.7">1.0</text><text x="1009.35" y="536.7">1.0</text>
<text x="55.5" y="623.4">1.0</text><text x="142.35" y="623.4">1.0</text><text x="922.5" y="623.4">1.0</text><text x="1009.35" y="623.4">1.0</text>
<text x="55.5" y="710.1">1.0</text><text x="142.35" y="710.1">1.0</text><text x="922.5" y="710.1">1.0</text><text x="1009.35" y="710.1">1.0</text>
<text x="55.5" y="796.8">1.0</text><text x="142.35" y="796.8">1.0</text><text x="922.5" y="796.8">1.0</text><text x="1009.35" y="796.8">1.0</text>
<text x="57" y="883.5">1.0</text><text x="143.85" y="883.5">1.0</text><text x="229.2" y="883.5">1.0</text><text x="316.05" y="883.5">1.0</text><text x="402.9" y="883.5">1.0</text><text x="489.75" y="883.5">1.0</text><text x="576.6" y="883.5">1.0</text><text x="663.45" y="883.5">1.0</text><text x="750.3" y="883.5">1.0</text><text x="837.15" y="883.5">1.0</text><text x="924" y="883.5">1.0</text><text x="1010.85" y="883.5">1.0</text>
<text x="143.85" y="970.2">1.0</text><text x="229.2" y="970.2">1.0</text><text x="316.05" y="970.2">1.0</text><text x="402.9" y="970.2">1.0</text><text x="489.75" y="970.2">1.0</text><text x="576.6" y="970.2">1.0</text><text x="663.45" y="970.2">1.0</text><text x="750.3" y="970.2">1.0</text><text x="837.15" y="970.2">1.0</text><text x="924" y="970.2">1.0</text>
</g>
<g id="edge-labels">
<g class="lr">
<text x="155.3" y="98.2">0.125</text><text x="242.1" y="98.2">0.125</text><text x="242.1" y="108.2">0.125</text><text x="329" y="98.2">0.125</text><text x="329" y="108.2">0.125</text><text x="415.8" y="98.2">0.125</text><text x="415.8" y="108.2">0.125</text><text x="502.7" y="98.2">0.125</text><text x="502.7" y="108.2">0.125</text><text x="589.5" y="98.2">0.125</text><text x="589.5" y="108.2">0.125</text><text x="676.4" y="98.2">0.125</text><text x="676.4" y="108.2">0.125</text><text x="763.2" y="98.2">0.125</text><text x="763.2" y="108.2">0.125</text><text x="850.1" y="98.2">0.125</text>
<text x="155.3" y="184.9">0.125</text>
<text x="155.3" y="271.6">0.125</text><text x="155.3" y="281.6">0.125</text><text x="242.1" y="271.6">0.125</text><text x="242.1" y="281.6">0.125</text><text x="329" y="271.6">0.125</text><text x="329" y="281.6">0.125</text><text x="415.8" y="271.6">0.125</text><text x="415.8" y="281.6">0.125</text><text x="502.7" y="271.6">0.125</text><text x="502.7" y="281.6">0.125</text><text x="589.5" y="271.6">0.125</text><text x="589.5" y="281.6">0.125</text><text x="676.4" y="271.6">0.125</text><text x="676.4" y="281.6">0.125</text><text x="763.2" y="271.6">0.125</text><text x="763.2" y="281.6">0.125</text><text x="850.1" y="271.6">0.125</text><text x="850.1" y="281.6">0.125</text>
<text x="155.3" y="358.3">0.125</text><text x="155.3" y="368.3">0.125</text><text x="242.1" y="358.3">0.125</text><text x="242.1" y="368.3">0.125</text><text x="329" y="358.3">0.125</text><text x="329" y="368.3">0.125</text><text x="415.8" y="358.3">0.125</text><text x="415.8" y="368.3">0.125</text><text x="502.7" y="358.3">0.125</text><text x="502.7" y="368.3">0.125</text><text x="589.5" y="358.3">0.125</text><text x="589.5" y="368.3">0.125</text><text x="676.4" y="358.3">0.125</text><text x="676.4" y="368.3">0.125</text><text x="763.2" y="358.3">0.125</text><text x="763.2" y="368.3">0.125</text><text x="850.1" y="358.3">0.125</text><text x="850.1" y="368.3">0.125</text>
<text x="155.3" y="445">0.125</text><text x="155.3" y="455">0.125</text><text x="242.1" y="445">0.125</text><text x="242.1" y="455">0.125</text><text x="329" y="445">0.125</text><text x="329" y="455">0.125</text><text x="415.8" y="445">0.125</text><text x="415.8" y="455">0.125</text><text x="502.7" y="445">0.125</text><text x="502.7" y="455">0.125</text><text x="589.5" y="445">0.125</text><text x="589.5" y="455">0.125</text><text x="676.4" y="445">0.125</text><text x="676.4" y="455">0.125</text><text x="763.2" y="445">0.125</text><text x="763.2" y="455">0.125</text><text x="850.1" y="445">0.125</text><text x="850.1" y="455">0.125</text>
<text x="155.3" y="531.7">0.125</text><text x="155.3" y="541.7">0.125</text><text x="242.1" y="531.7">0.125</text><text x="242.1" y="541.7">0.125</text><text x="329" y="531.7">0.125</text><text x="329" y="541.7">0.125</text><text x="415.8" y="531.7">0.125</text><text x="415.8" y="541.7">0.125</text><text x="502.7" y="531.7">0.125</text><text x="502.7" y="541.7">0.125</text><text x="589.5" y="531.7">0.125</text><text x="589.5" y="541.7">0.125</text><text x="676.4" y="531.7">0.125</text><text x="676.4" y="541.7">0.125</text><text x="763.2" y="531.7">0.125</text><text x="763.2" y="541.7">0.125</text><text x="850.1" y="531.7">0.125</text><text x="850.1" y="541.7">0.125</text>
<text x="155.3" y="618.4">0.125</text><text x="155.3" y="628.4">0.125</text><text x="242.1" y="618.4">0.125</text><text x="242.1" y="628.4">0.125</text><text x="329" y="618.4">0.125</text><text x="329" y="628.4">0.125</text><text x="415.8" y="618.4">0.125</text><text x="415.8" y="628.4">0.125</text><text x="502.7" y="618.4">0.125</text><text x="502.7" y="628.4">0.125</text><text x="589.5" y="618.4">0.125</text><text x="589.5" y="628.4">0.125</text><text x="676.4" y="618.4">0.125</text><text x="676.4" y="628.4">0.125</text><text x="763.2" y="618.4">0.125</text><text x="763.2" y="628.4">0.125</text><text x="850.1" y="618.4">0.125</text><text x="850.1" y="628.4">0.125</text>
<text x="155.3" y="705.1">0.125</text><text x="155.3" y="715.1">0.125</text><text x="242.1" y="705.1">0.125</text><text x="242.1" y="715.1">0.125</text><text x="329" y="705.1">0.125</text><text x="329" y="715.1">0.125</text><text x="415.8" y="705.1">0.125</text><text x="415.8" y="715.1">0.125</text><text x="502.7" y="705.1">0.125</text><text x="502.7" y="715.1">0.125</text><text x="589.5" y="705.1">0.125</text><text x="589.5" y="715.1">0.125</text><text x="676.4" y="705.1">0.125</text><text x="676.4" y="715.1">0.125</text><text x="763.2" y="705.1">0.125</text><text x="763.2" y="715.1">0.125</text><text x="850.1" y="705.1">0.125</text><text x="850.1" y="715.1">0.125</text>
<text x="155.3" y="791.8">0.125</text>
<text x="155.3" y="878.5">0.125</text><text x="242.1" y="878.5">0.125</text><text x="242.1" y="888.5">0.125</text><text x="329" y="878.5">0.125</text><text x="329" y="888.5">0.125</text><text x="415.8" y="878.5">0.125</text><text x="415.8" y="888.5">0.125</text><text x="502.7" y="878.5">0.125</text><text x="502.7" y="888.5">0.125</text><text x="589.5" y="878.5">0.125</text><text x="589.5" y="888.5">0.125</text><text x="676.4" y="878.5">0.125</text><text x="676.4" y="888.5">0.125</text><text x="763.2" y="878.5">0.125</text><text x="763.2" y="888.5">0.125</text><text x="850.1" y="878.5">0.125</text>
<text x="285.6" y="228.3">0.125</text><text x="285.6" y="238.3">0.125</text><text x="372.4" y="228.3">0.125</text><text x="372.4" y="238.3">0.125</text><text x="459.3" y="228.3">0.125</text><text x="459.3" y="238.3">0.125</text><text x="546.1" y="228.3">0.125</text><text x="546.1" y="238.3">0.125</text><text x="633" y="228.3">0.125</text><text x="633" y="238.3">0.125</text><text x="719.8" y="228.3">0.125</text><text x="719.8" y="238.3">0.125</text>
<text x="285.6" y="315">0.125</text><text x="285.6" y="325">0.125</text><text x="372.4" y="315">0.125</text><text x="372.4" y="325">0.125</text><text x="459.3" y="315">0.125</text><text x="459.3" y="325">0.125</text><text x="546.1" y="315">0.125</text><text x="546.1" y="325">0.125</text><text x="633" y="315">0.125</text><text x="633" y="325">0.125</text><text x="719.8" y="315">0.125</text><text x="719.8" y="325">0.125</text>
<text x="285.6" y="401.7">0.125</text><text x="285.6" y="411.7">0.125</text><text x="372.4" y="401.7">0.125</text><text x="372.4" y="411.7">0.125</text><text x="459.3" y="401.7">0.125</text><text x="459.3" y="411.7">0.125</text><text x="546.1" y="401.7">0.125</text><text x="546.1" y="411.7">0.125</text><text x="633" y="401.7">0.125</text><text x="633" y="411.7">0.125</text><text x="719.8" y="401.7">0.125</text><text x="719.8" y="411.7">0.125</text>
<text x="285.6" y="488.4">0.125</text><text x="285.6" y="498.4">0.125</text><text x="372.4" y="488.4">0.125</text><text x="372.4" y="498.4">0.125</text><text x="459.3" y="488.4">0.125</text><text x="459.3" y="498.4">0.125</text><text x="546.1" y="488.4">0.125</text><text x="546.1" y="498.4">0.125</text><text x="633" y="488.4">0.125</text><text x="633" y="498.4">0.125</text><text x="719.8" y="488.4">0.125</text><text x="719.8" y="498.4">0.125</text>
<text x="285.6" y="575.1">0.125</text><text x="285.6" y="585.1">0.125</text><text x="372.4" y="575.1">0.125</text><text x="372.4" y="585.1">0.125</text><text x="459.3" y="575.1">0.125</text><text x="459.3" y="585.1">0.125</text><text x="546.1" y="575.1">0.125</text><text x="546.1" y="585.1">0.125</text><text x="633" y="575.1">0.125</text><text x="633" y="585.1">0.125</text><text x="719.8" y="575.1">0.125</text><text x="719.8" y="585.1">0.125</text>
<text x="285.6" y="661.8">0.125</text><text x="285.6" y="671.8">0.125</text><text x="372.4" y="661.8">0.125</text><text x="372.4" y="671.8">0.125</text><text x="459.3" y="661.8">0.125</text><text x="459.3" y="671.8">0.125</text><text x="546.1" y="661.8">0.125</text><text x="546.1" y="671.8">0.125</text><text x="633" y="661.8">0.125</text><text x="633" y="671.8">0.125</text><text x="719.8" y="661.8">0.125</text><text x="719.8" y="671.8">0.125</text>
<text x="285.6" y="748.5">0.125</text><text x="285.6" y="758.5">0.125</text><text x="372.4" y="748.5">0.125</text><text x="372.4" y="758.5">0.125</text><text x="459.3" y="748.5">0.125</text><text x="459.3" y="758.5">0.125</text><text x="546.1" y="748.5">0.125</text><text x="546.1" y="758.5">0.125</text><text x="633" y="748.5">0.125</text><text x="633" y="758.5">0.125</text><text x="719.8" y="748.5">0.125</text><text x="719.8" y="758.5">0.125</text>
</g>
<g class="ll">
<text x="240.1" y="184.9">0.125</text><text x="240.1" y="194.9">0.125</text><text x="327" y="184.9">0.125</text><text x="327" y="194.9">0.125</text><text x="413.8" y="184.9">0.125</text><text x="413.8" y="194.9">0.125</text><text x="500.7" y="184.9">0.125</text><text x="500.7" y="194.9">0.125</text><text x="587.5" y="184.9">0.125</text><text x="587.5" y="194.9">0.125</text><text x="674.4" y="184.9">0.125</text><text x="674.4" y="194.9">0.125</text><text x="761.2" y="184.9">0.125</text><text x="761.2" y="194.9">0.125</text><text x="848.1" y="184.9">0.125</text>
<text x="240.1" y="271.6">0.125</text><text x="240.1" y="281.6">0.125</text><text x="327" y="271.6">0.125</text><text x="327" y="281.6">0.125</text><text x="413.8" y="271.6">0.125</text><text x="413.8" y="281.6">0.125</text><text x="500.7" y="271.6">0.125</text><text x="500.7" y="281.6">0.125</text><text x="587.5" y="271.6">0.125</text><text x="587.5" y="281.6">0.125</text><text x="674.4" y="271.6">0.125</text><text x="674.4" y="281.6">0.125</text><text x="761.2" y="271.6">0.125</text><text x="761.2" y="281.6">0.125</text>
<text x="240.1" y="358.3">0.125</text><text x="240.1" y="368.3">0.125</text><text x="327" y="358.3">0.125</text><text x="327" y="368.3">0.125</text><text x="413.8" y="358.3">0.125</text><text x="413.8" y="368.3">0.125</text><text x="500.7" y="358.3">0.125</text><text x="500.7" y="368.3">0.125</text><text x="587.5" y="358.3">0.125</text><text x="587.5" y="368.3">0.125</text><text x="674.4" y="358.3">0.125</text><text x="674.4" y="368.3">0.125</text><text x="761.2" y="358.3">0.125</text><text x="761.2" y="368.3">0.125</text>
<text x="240.1" y="445">0.125</text><text x="240.1" y="455">0.125</text><text x="327" y="445">0.125</text><text x="327" y="455">0.125</text><text x="413.8" y="445">0.125</text><text x="413.8" y="455">0.125</text><text x="500.7" y="445">0.125</text><text x="500.7" y="455">0.125</text><text x="587.5" y="445">0.125</text><text x="587.5" y="455">0.125</text><text x="674.4" y="445">0.125</text><text x="674.4" y="455">0.125</text><text x="761.2" y="445">0.125</text><text x="761.2" y="455">0.125</text>
<text x="240.1" y="531.7">0.125</text><text x="240.1" y="541.7">0.125</text><text x="327" y="531.7">0.125</text><text x="327" y="541.7">0.125</text><text x="413.8" y="531.7">0.125</text><text x="413.8" y="541.7">0.125</text><text x="500.7" y="531.7">0.125</text><text x="500.7" y="541.7">0.125</text><text x="587.5" y="531.7">0.125</text><text x="587.5" y="541.7">0.125</text><text x="674.4" y="531.7">0.125</text><text x="674.4" y="541.7">0.125</text><text x="761.2" y="531.7">0.125</text><text x="761.2" y="541.7">0.125</text>
<text x="240.1" y="618.4">0.125</text><text x="240.1" y="628.4">0.125</text><text x="327" y="618.4">0.125</text><text x="327" y="628.4">0.125</text><text x="413.8" y="618.4">0.125</text><text x="413.8" y="628.4">0.125</text><text x="500.7" y="618.4">0.125</text><text x="500.7" y="628.4">0.125</text><text x="587.5" y="618.4">0.125</text><text x="587.5" y="628.4">0.125</text><text x="674.4" y="618.4">0.125</text><text x="674.4" y="628.4">0.125</text><text x="761.2" y="618.4">0.125</text><text x="761.2" y="628.4">0.125</text>
<text x="240.1" y="705.1">0.125</text><text x="240.1" y="715.1">0.125</text><text x="327" y="705.1">0.125</text><text x="327" y="715.1">0.125</text><text x="413.8" y="705.1">0.125</text><text x="413.8" y="715.1">0.125</text><text x="500.7" y="705.1">0.125</text><text x="500.7" y="715.1">0.125</text><text x="587.5" y="705.1">0.125</text><text x="587.5" y="715.1">0.125</text><text x="674.4" y="705.1">0.125</text><text x="674.4" y="715.1">0.125</text><text x="761.2" y="705.1">0.125</text><text x="761.2" y="715.1">0.125</text>
<text x="240.1" y="791.8">0.125</text><text x="240.1" y="801.8">0.125</text><text x="327" y="791.8">0.125</text><text x="327" y="801.8">0.125</text><text x="413.8" y="791.8">0.125</text><text x="413.8" y="801.8">0.125</text><text x="500.7" y="791.8">0.125</text><text x="500.7" y="801.8">0.125</text><text x="587.5" y="791.8">0.125</text><text x="587.5" y="801.8">0.125</text><text x="674.4" y="791.8">0.125</text><text x="674.4" y="801.8">0.125</text><text x="761.2" y="791.8">0.125</text><text x="761.2" y="801.8">0.125</text><text x="848.1" y="791.8">0.125</text>
<text x="109.9" y="141.6">0.125</text><text x="196.7" y="141.6">0.125</text><text x="283.6" y="141.6">0.125</text><text x="283.6" y="151.6">0.125</text><text x="370.4" y="141.6">0.125</text><text x="370.4" y="151.6">0.125</text><text x="457.3" y="141.6">0.125</text><text x="457.3" y="151.6">0.125</text><text x="544.1" y="141.6">0.125</text><text x="544.1" y="151.6">0.125</text><text x="631" y="141.6">0.125</text><text x="631" y="151.6">0.125</text><text x="717.8" y="141.6">0.125</text><text x="717.8" y="151.6">0.125</text><text x="804.7" y="141.6">0.125</text><text x="891.5" y="141.6">0.125</text>
<text x="109.9" y="228.3">0.125</text><text x="109.9" y="238.3">0.125</text><text x="196.7" y="228.3">0.125</text><text x="196.7" y="238.3">0.125</text><text x="283.6" y="228.3">0.125</text><text x="283.6" y="238.3">0.125</text><text x="370.4" y="228.3">0.125</text><text x="370.4" y="238.3">0.125</text><text x="457.3" y="228.3">0.125</text><text x="457.3" y="238.3">0.125</text><text x="544.1" y="228.3">0.125</text><text x="544.1" y="238.3">0.125</text><text x="631" y="228.3">0.125</text><text x="631" y="238.3">0.125</text><text x="717.8" y="228.3">0.125</text><text x="717.8" y="238.3">0.125</text><text x="804.7" y="228.3">0.125</text><text x="804.7" y="238.3">0.125</text><text x="891.5" y="228.3">0.125</text><text x="891.5" y="238.3">0.125</text>
<text x="109.9" y="315">0.125</text><text x="109.9" y="325">0.125</text><text x="196.7" y="315">0.125</text><text x="196.7" y="325">0.125</text><text x="283.6" y="315">0.125</text><text x="283.6" y="325">0.125</text><text x="370.4" y="315">0.125</text><text x="370.4" y="325">0.125</text><text x="457.3" y="315">0.125</text><text x="457.3" y="325">0.125</text><text x="544.1" y="315">0.125</text><text x="544.1" y="325">0.125</text><text x="631" y="315">0.125</text><text x="631" y="325">0.125</text><text x="717.8" y="315">0.125</text><text x="717.8" y="325">0.125</text><text x="804.7" y="315">0.125</text><text x="804.7" y="325">0.125</text><text x="891.5" y="315">0.125</text><text x="891.5" y="325">0.125</text>
<text x="109.9" y="401.7">0.125</text><text x="109.9" y="411.7">0.125</text><text x="196.7" y="401.7">0.125</text><text x="196.7" y="411.7">0.125</text><text x="283.6" y="401.7">0.125</text><text x="283.6" y="411.7">0.125</text><text x="370.4" y="401.7">0.125</text><text x="370.4" y="411.7">0.125</text><text x="457.3" y="401.7">0.125</text><text x="457.3" y="411.7">0.125</text><text x="544.1" y="401.7">0.125</text><text x="544.1" y="411.7">0.125</text><text x="631" y="401.7">0.125</text><text x="631" y="411.7">0.125</text><text x="717.8" y="401.7">0.125</text><text x="717.8" y="411.7">0.125</text><text x="804.7" y="401.7">0.125</text><text x="804.7" y="411.7">0.125</text><text x="891.5" y="401.7">0.125</text><text x="891.5" y="411.7">0.125</text>
<text x="109.9" y="488.4">0.125</text><text x="109.9" y="498.4">0.125</text><text x="196.7" y="488.4">0.125</text><text x="196.7" y="498.4">0.125</text><text x="283.6" y="488.4">0.125</text><text x="283.6" y="498.4">0.125</text><text x="370.4" y="488.4">0.125</text><text x="370.4" y="498.4">0.125</text><text x="457.3" y="488.4">0.125</text><text x="457.3" y="498.4">0.125</text><text x="544.1" y="488.4">0.125</text><text x="544.1" y="498.4">0.125</text><text x="631" y="488.4">0.125</text><text x="631" y="498.4">0.125</text><text x="717.8" y="488.4">0.125</text><text x="717.8" y="498.4">0.125</text><text x="804.7" y="488.4">0.125</text><text x="804.7" y="498.4">0.125</text><text x="891.5" y="488.4">0.125</text><text x="891.5" y="498.4">0.125</text>
<text x="109.9" y="575.1">0.125</text><text x="109.9" y="585.1">0.125</text><text x="196.7" y="575.1">0.125</text><text x="196.7" y="585.1">0.125</text><text x="283.6" y="575.1">0.125</text><text x="283.6" y="585.1">0.125</text><text x="370.4" y="575.1">0.125</text><text x="370.4" y="585.1">0.125</text><text x="457.3" y="575.1">0.125</text><text x="457.3" y="585.1">0.125</text><text x="544.1" y="575.1">0.125</text><text x="544.1" y="585.1">0.125</text><text x="631" y="575.1">0.125</text><text x="631" y="585.1">0.125</text><text x="717.8" y="575.1">0.125</text><text x="717.8" y="585.1">0.125</text><text x="804.7" y="575.1">0.125</text><text x="804.7" y="585.1">0.125</text><text x="891.5" y="575.1">0.125</text><text x="891.5" y="585.1">0.125</text>
<text x="109.9" y="661.8">0.125</text><text x="109.9" y="671.8">0.125</text><text x="196.7" y="661.8">0.125</text><text x="196.7" y="671.8">0.125</text><text x="283.6" y="661.8">0.125</text><text x="283.6" y="671.8">0.125</text><text x="370.4" y="661.8">0.125</text><text x="370.4" y="671.8">0.125</text><text x="457.3" y="661.8">0.125</text><text x="457.3" y="671.8">0.125</text><text x="544.1" y="661.8">0.125</text><text x="544.1" y="671.8">0.125</text><text x="631" y="661.8">0.125</text><text x="631" y="671.8">0.125</text><text x="717.8" y="661.8">0.125</text><text x="717.8" y="671.8">0.125</text><text x="804.7" y="661.8">0.125</text><text x="804.7" y="671.8">0.125</text><text x="891.5" y="661.8">0.125</text><text x="891.5" y="671.8">0.125</text>
<text x="109.9" y="748.5">0.125</text><text x="109.9" y="758.5">0.125</text><text x="196.7" y="748.5">0.125</text><text x="196.7" y="758.5">0.125</text><text x="283.6" y="748.5">0.125</text><text x="283.6" y="758.5">0.125</text><text x="370.4" y="748.5">0.125</text><text x="370.4" y="758.5">0.125</text><text x="457.3" y="748.5">0.125</text><text x="457.3" y="758.5">0.125</text><text x="544.1" y="748.5">0.125</text><text x="544.1" y="758.5">0.125</text><text x="631" y="748.5">0.125</text><text x="631" y="758.5">0.125</text><text x="717.8" y="748.5">0.125</text><text x="717.8" y="758.5">0.125</text><text x="804.7" y="748.5">0.125</text><text x="804.7" y="758.5">0.125</text><text x="891.5" y="748.5">0.125</text><text x="891.5" y="758.5">0.125</text>
<text x="109.9" y="835.2">0.125</text><text x="196.7" y="835.2">0.125</text><text x="283.6" y="835.2">0.125</text><text x="283.6" y="845.2">0.125</text><text x="370.4" y="835.2">0.125</text><text x="370.4" y="845.2">0.125</text><text x="457.3" y="835.2">0.125</text><text x="457.3" y="845.2">0.125</text><text x="544.1" y="835.2">0.125</text><text x="544.1" y="845.2">0.125</text><text x="631" y="835.2">0.125</text><text x="631" y="845.2">0.125</text><text x="717.8" y="835.2">0.125</text><text x="717.8" y="845.2">0.125</text><text x="804.7" y="835.2">0.125</text><text x="891.5" y="835.2">0.125</text>
</g>
</g>
</g>
<g id="nodes" class="n">
<g id="n-1_9" transform="translate(110.85,13.5)"><ellipse rx="20.5" ry="10.4"/><text y="2.8">(-1, 9)</text></g>
<g id="n0_9" transform="translate(197.7,13.5)"><ellipse rx="19" ry="10.4"/><text y="2.8">(0, 9)</text></g>
<g id="n1_9" transform="translate(284.55,13.5)"><ellipse rx="19" ry="10.4"/><text y="2.8">(1, 9)</text></g>
<g id="n2_9" transform="translate(371.4,13.5)"><ellipse rx="19" ry="10.4"/><text y="2.8">(2, 9)</text></g>
<g id="n3_9" transform="translate(458.25,13.5)"><ellipse rx="19" ry="10.4"/><text y="2.8">(3, 9)</text></g>
<g id="n4_9" transform="translate(545.1,13.5)"><ellipse rx="19" ry="10.4"/><text y="2.8">(4, 9)</text></g>
<g id="n5_9" transform="translate(631.95,13.5)"><ellipse rx="19" ry="10.4"/><text y="2.8">(5, 9)</text></g>
<g id="n6_9" transform="translate(718.8,13.5)"><ellipse rx="19" ry="10.4"/><text y="2.8">(6, 9)</text></g>
<g id="n7_9" transform="translate(805.65,13.5)"><ellipse rx="19" ry="10.4"/><text y="2.8">(7, 9)</text></g>
<g id="n8_9" transform="translate(892.5,13.5)"><ellipse rx="19" ry="10.4"/><text y="2.8">(8, 9)</text></g>
<g id="n-2_8" transform="translate(24,100.2)"><ellipse rx="20.5" ry="10.4"/><text y="2.8">(-2, 8)</text></g>
<g id="n-1_8" transform="translate(110.85,100.2)"><ellipse rx="20.5" ry="10.4"/><text y="2.8">(-1, 8)</text></g>
<g id="n0_8" transform="translate(197.7,100.2)"><ellipse rx="19" ry="10.4"/><text y="2.8">(0, 8)</text></g>
<g id="n1_8" transform="translate(284.55,100.2)"><ellipse rx="19" ry="10.4"/><text y="2.8">(1, 8)</text></g>
<g id="n2_8" transform="translate(371.4,100.2)"><ellipse rx="19" ry="10.4"/><text y="2.8">(2, 8)</text></g>
<g id="n3_8" transform="translate(458.25,100.2)"><ellipse rx="19" ry="10.4"/><text y="2.8">(3, 8)</text></g>
<g id="n4_8" transform="translate(545.1,100.2)"><ellipse rx="19" ry="10.4"/><text y="2.8">(4, 8)</text></g>
<g id="n5_8" transform="translate(631.95,100.2)"><ellipse rx="19" ry="10.4"/><text y="2.8">(5, 8)</text></g>
<g id="n6_8" transform="translate(718.8,100.2)"><ellipse rx="19" ry="10.4"/><text y="2.8">(6, 8)</text></g>
<g id="n7_8" transform="translate(805.65,100.2)"><ellipse rx="19" ry="10.4"/><text y="2.8">(7, 8)</text></g>
<g id="n8_8" transform="translate(892.5,100.2)"><ellipse rx="19" ry="10.4"/><text y="2.8">(8, 8)</text></g>
<g id="n9_8" transform="translate(979.35,100.2)"><ellipse rx="19" ry="10.4"/><text y="2.8">(9, 8)</text></g>
<g id="n-2_7" transform="translate(24,186.9)"><ellipse rx="20.5" ry="10.4"/><text y="2.8">(-2, 7)</text></g>
<g id="n-1_7" transform="translate(110.85,186.9)"><ellipse rx="20.5" ry="10.4"/><text y="2.8">(-1, 7)</text></g>
<g id="n0_7" transform="translate(197.7,186.9)"><ellipse rx="19" ry="10.4"/><text y="2.8">(0, 7)</text></g>
<g id="n1_7" transform="translate(284.55,186.9)"><ellipse rx="19" ry="10.4"/><text y="2.8">(1, 7)</text></g>
<g id="n2_7" transform="translate(371.4,186.9)"><ellipse rx="19" ry="10.4"/><text y="2.8">(2, 7)</text></g>
<g id="n3_7" transform="translate(458.25,186.9)"><ellipse rx="19" ry="10.4"/><text y="2.8">(3, 7)</text></g>
<g id="n4_7" transform="translate(545.1,186.9)"><ellipse rx="19" ry="10.4"/><text y="2.8">(4, 7)</text></g>
<g id="n5_7" transform="translate(631.95,186.9)"><ellipse rx="19" ry="10.4"/><text y="2.8">(5, 7)</text></g>
<g id="n6_7" transform="translate(718.8,186.9)"><ellipse rx="19" ry="10.4"/><text y="2.8">(6, 7)</text></g>
<g id="n7_7" transform="translate(805.65,186.9)"><ellipse rx="19" ry="10.4"/><text y="2.8">(7, 7)</text></g>
<g id="n8_7" transform="translate(892.5,186.9)"><ellipse rx="19" ry="10.4"/><text y="2.8">(8, 7)</text></g>
<g id="n9_7" transform="translate(979.35,186.9)"><ellipse rx="19" ry="10.4"/><text y="2.8">(9, 7)</text></g>
<g id="n-2_6" transform="translate(24,273.6)"><ellipse rx="20.5" ry="10.4"/><text y="2.8">(-2, 6)</text></g>
<g id="n-1_6" transform="translate(110.85,273.6)"><ellipse rx="20.5" ry="10.4"/><text y="2.8">(-1, 6)</text></g>
<g id="n0_6" transform="translate(197.7,273.6)"><ellipse rx="19" ry="10.4"/><text y="2.8">(0, 6)</text></g>
<g id="n1_6" transform="translate(284.55,273.6)"><ellipse rx="19" ry="10.4"/><text y="2.8">(1, 6)</text></g>
<g id="n2_6" transform="translate(371.4,273.6)"><ellipse rx="19" ry="10.4"/><text y="2.8">(2, 6)</text></g>
<g id="n3_6" transform="translate(458.25,273.6)"><ellipse rx="19" ry="10.4"/><text y="2.8">(3, 6)</text></g>
<g id="n4_6" transform="translate(545.1,273.6)"><ellipse rx="19" ry="10.4"/><text y="2.8">(4, 6)</text></g>
<g id="n5_6" transform="translate(631.95,273.6)"><ellipse rx="19" ry="10.4"/><text y="2.8">(5, 6)</text></g>
<g id="n6_6" transform="translate(718.8,273.6)"><ellipse rx="19" ry="10.4"/><text y="2.8">(6, 6)</text></g>
<g id="n7_6" transform="translate(805.65,273.6)"><ellipse rx="19" ry="10.4"/><text y="2.8">(7, 6)</text></g>
<g id="n8_6" transform="translate(892.5,273.6)"><ellipse rx="19" ry="10.4"/><text y="2.8">(8, 6)</text></g>
<g id="n9_6" transform="translate(979.35,273.6)"><ellipse rx="19" ry="10.4"/><text y="2.8">(9, 6)</text></g>
<g id="n-2_5" transform="translate(24,360.3)"><ellipse rx="20.5" ry="10.4"/><text y="2.8">(-2, 5)</text></g>
<g id="n-1_5" transform="translate(110.85,360.3)"><ellipse rx="20.5" ry="10.4"/><text y="2.8">(-1, 5)</text></g>
<g id="n0_5" transform="translate(197.7,360.3)"><ellipse rx="19" ry="10.4"/><text y="2.8">(0, 5)</text></g>
<g id="n1_5" transform="translate(284.55,360.3)"><ellipse rx="19" ry="10.4"/><text y="2.8">(1, 5)</text></g>
<g id="n2_5" transform="translate(371.4,360.3)"><ellipse rx="19" ry="10.4"/><text y="2.8">(2, 5)</text></g>
<g id="n3_5" transform="translate(458.25,360.3)"><ellipse rx="19" ry="10.4"/><text y="2.8">(3, 5)</text></g>
<g id="n4_5" transform="translate(545.1,360.3)"><ellipse rx="19" ry="10.4"/><text y="2.8">(4, 5)</text></g>
<g id="n5_5" transform="translate(631.95,360.3)"><ellipse rx="19" ry="10.4"/><text y="2.8">(5, 5)</text></g>
<g id="n6_5" transform="translate(718.8,360.3)"><ellipse rx="19" ry="10.4"/><text y="2.8">(6, 5)</text></g>
<g id="n7_5" transform="translate(805.65,360.3)"><ellipse rx="19" ry="10.4"/><text y="2.8">(7, 5)</text></g>
<g id="n8_5" transform="translate(892.5,360.3)"><ellipse rx="19" ry="10.4"/><text y="2.8">(8, 5)</text></g>
<g id="n9_5" transform="translate(979.35,360.3)"><ellipse rx="19" ry="10.4"/><text y="2.8">(9, 5)</text></g>
<g id="n-2_4" transform="translate(24,447)"><ellipse rx="20.5" ry="10.4"/><text y="2.8">(-2, 4)</text></g>
<g id="n-1_4" transform="translate(110.85,447)"><ellipse rx="20.5" ry="10.4"/><text y="2.8">(-1, 4)</text></g>
<g id="n0_4" transform="translate(197.7,447)"><ellipse rx="19" ry="10.4"/><text y="2.8">(0, 4)</text></g>
<g id="n1_4" transform="translate(284.55,447)"><ellipse rx="19" ry="10.4"/><text y="2.8">(1, 4)</text></g>
<g id="n2_4" transform="translate(371.4,447)"><ellipse rx="19" ry="10.4"/><text y="2.8">(2, 4)</text></g>
<g id="n3_4" transform="translate(458.25,447)"><ellipse rx="19" ry="10.4"/><text y="2.8">(3, 4)</text></g>
<g id="n4_4" transform="translate(545.1,447)"><ellipse rx="19" ry="10.4"/><text y="2.8">(4, 4)</text></g>
<g id="n5_4" transform="translate(631.95,447)"><ellipse rx="19" ry="10.4"/><text y="2.8">(5, 4)</text></g>
<g id="n6_4" transform="translate(718.8,447)"><ellipse rx="19" ry="10.4"/><text y="2.8">(6, 4)</text></g>
<g id="n7_4" transform="translate(805.65,447)"><ellipse rx="19" ry="10.4"/><text y="2.8">(7, 4)</text></g>
<g id="n8_4" transform="translate(892.5,447)"><ellipse rx="19" ry="10.4"/><text y="2.8">(8, 4)</text></g>
<g id="n9_4" transform="translate(979.35,447)"><ellipse rx="19" ry="10.4"/><text y="2.8">(9, 4)</text></g>
<g id="n-2_3" transform="translate(24,533.7)"><ellipse rx="20.5" ry="10.4"/><text y="2.8">(-2, 3)</text></g>
<g id="n-1_3" transform="translate(110.85,533.7)"><ellipse rx="20.5" ry="10.4"/><text y="2.8">(-1, 3)</text></g>
<g id="n0_3" transform="translate(197.7,533.7)"><ellipse rx="19" ry="10.4"/><text y="2.8">(0, 3)</text></g>
<g id="n1_3" transform="translate(284.55,533.7)"><ellipse rx="19" ry="10.4"/><text y="2.8">(1, 3)</text></g>
<g id="n2_3" transform="translate(371.4,533.7)"><ellipse rx="19" ry="10.4"/><text y="2.8">(2, 3)</text></g>
<g id="n3_3" transform="translate(458.25,533.7)"><ellipse rx="19" ry="10.4"/><text y="2.8">(3, 3)</text></g>
<g id="n4_3" transform="translate(545.1,533.7)"><ellipse rx="19" ry="10.4"/><text y="2.8">(4, 3)</text></g>
<g id="n5_3" transform="translate(631.95,533.7)"><ellipse rx="19" ry="10.4"/><text y="2.8">(5, 3)</text></g>
<g id="n6_3" transform="translate(718.8,533.7)"><ellipse rx="19" ry="10.4"/><text y="2.8">(6, 3)</text></g>
<g id="n7_3" transform="translate(805.65,533.7)"><ellipse rx="19" ry="10.4"/><text y="2.8">(7, 3)</text></g>
<g id="n8_3" transform="translate(892.5,533.7)"><ellipse rx="19" ry="10.4"/><text y="2.8">(8, 3)</text></g>
<g id="n9_3" transform="translate(979.35,533.7)"><ellipse rx="19" ry="10.4"/><text y="2.8">(9, 3)</text></g>
<g id="n-2_2" transform="translate(24,620.4)"><ellipse rx="20.5" ry="10.4"/><text y="2.8">(-2, 2)</text></g>
<g id="n-1_2" transform="translate(110.85,620.4)"><ellipse rx="20.5" ry="10.4"/><text y="2.8">(-1, 2)</text></g>
<g id="n0_2" transform="translate(197.7,620.4)"><ellipse rx="19" ry="10.4"/><text y="2.8">(0, 2)</text></g>
<g id="n1_2" transform="translate(284.55,620.4)"><ellipse rx="19" ry="10.4"/><text y="2.8">(1, 2)</text></g>
<g id="n2_2" transform="translate(371.4,620.4)"><ellipse rx="19" ry="10.4"/><text y="2.8">(2, 2)</text></g>
<g id="n3_2" transform="translate(458.25,620.4)"><ellipse rx="19" ry="10.4"/><text y="2.8">(3, 2)</text></g>
<g id="n4_2" transform="translate(545.1,620.4)"><ellipse rx="19" ry="10.4"/><text y="2.8">(4, 2)</text></g>
<g id="n5_2" transform="translate(631.95,620.4)"><ellipse rx="19" ry="10.4"/><text y="2.8">(5, 2)</text></g>
<g id="n6_2" transform="translate(718.8,620.4)"><ellipse rx="19" ry="10.4"/><text y="2.8">(6, 2)</text></g>
<g id="n7_2" transform="translate(805.65,620.4)"><ellipse rx="19" ry="10.4"/><text y="2.8">(7, 2)</text></g>
<g id="n8_2" transform="translate(892.5,620.4)"><ellipse rx="19" ry="10.4"/><text y="2.8">(8, 2)</text></g>
<g id="n9_2" transform="translate(979.35,620.4)"><ellipse rx="19" ry="10.4"/><text y="2.8">(9, 2)</text></g>
<g id="n-2_1" transform="translate(24,707.1)"><ellipse rx="20.5" ry="10.4"/><text y="2.8">(-2, 1)</text></g>
<g id="n-1_1" transform="translate(110.85,707.1)"><ellipse rx="20.5" ry="10.4"/><text y="2.8">(-1, 1)</text></g>
<g id="n0_1" transform="translate(197.7,707.1)"><ellipse rx="19" ry="10.4"/><text y="2.8">(0, 1)</text></g>
<g id="n1_1" transform="translate(284.55,707.1)"><ellipse rx="19" ry="10.4"/><text y="2.8">(1, 1)</text></g>
<g id="n2_1" transform="translate(371.4,707.1)"><ellipse rx="19" ry="10.4"/><text y="2.8">(2, 1)</text></g>
<g id="n3_1" transform="translate(458.25,707.1)"><ellipse rx="19" ry="10.4"/><text y="2.8">(3, 1)</text></g>
<g id="n4_1" transform="translate(545.1,707.1)"><ellipse rx="19" ry="10.4"/><text y="2.8">(4, 1)</text></g>
<g id="n5_1" transform="translate(631.95,707.1)"><ellipse rx="19" ry="10.4"/><text y="2.8">(5, 1)</text></g>
<g id="n6_1" transform="translate(718.8,707.1)"><ellipse rx="19" ry="10.4"/><text y="2.8">(6, 1)</text></g>
<g id="n7_1" transform="translate(805.65,707.1)"><ellipse rx="19" ry="10.4"/><text y="2.8">(7, 1)</text></g>
<g id="n8_1" transform="translate(892.5,707.1)"><ellipse rx="19" ry="10.4"/><text y="2.8">(8, 1)</text></g>
<g id="n9_1" transform="translate(979.35,707.1)"><ellipse rx="19" ry="10.4"/><text y="2.8">(9, 1)</text></g>
<g id="n-2_0" transform="translate(24,793.8)"><ellipse rx="20.5" ry="10.4"/><text y="2.8">(-2, 0)</text></g>
<g id="n-1_0" transform="translate(110.85,793.8)"><ellipse rx="20.5" ry="10.4"/><text y="2.8">(-1, 0)</text></g>
<g id="n0_0" transform="translate(197.7,793.8)"><ellipse rx="19" ry="10.4"/><text y="2.8">(0, 0)</text></g>
<g id="n1_0" transform="translate(284.55,793.8)"><ellipse rx="19" ry="10.4"/><text y="2.8">(1, 0)</text></g>
<g id="n2_0" transform="translate(371.4,793.8)"><ellipse rx="19" ry="10.4"/><text y="2.8">(2, 0)</text></g>
<g id="n3_0" transform="translate(458.25,793.8)"><ellipse rx="19" ry="10.4"/><text y="2.8">(3, 0)</text></g>
<g id="n4_0" transform="translate(545.1,793.8)"><ellipse rx="19" ry="10.4"/><text y="2.8">(4, 0)</text></g>
<g id="n5_0" transform="translate(631.95,793.8)"><ellipse rx="19" ry="10.4"/><text y="2.8">(5, 0)</text></g>
<g id="n6_0" transform="translate(718.8,793.8)"><ellipse rx="19" ry="10.4"/><text y="2.8">(6, 0)</text></g>
<g id="n7_0" transform="translate(805.65,793.8)"><ellipse rx="19" ry="10.4"/><text y="2.8">(7, 0)</text></g>
<g id="n8_0" transform="translate(892.5,793.8)"><ellipse rx="19" ry="10.4"/><text y="2.8">(8, 0)</text></g>
<g id="n9_0" transform="translate(979.35,793.8)"><ellipse rx="19" ry="10.4"/><text y="2.8">(9, 0)</text></g>
<g id="n-2_-1" transform="translate(24,880.5)"><ellipse rx="22" ry="10.4"/><text y="2.8">(-2, -1)</text></g>
<g id="n-1_-1" transform="translate(110.85,880.5)"><ellipse rx="22" ry="10.4"/><text y="2.8">(-1, -1)</text></g>
<g id="n0_-1" transform="translate(197.7,880.5)"><ellipse rx="20.5" ry="10.4"/><text y="2.8">(0, -1)</text></g>
<g id="n1_-1" transform="translate(284.55,880.5)"><ellipse rx="20.5" ry="10.4"/><text y="2.8">(1, -1)</text></g>
<g id="n2_-1" transform="translate(371.4,880.5)"><ellipse rx="20.5" ry="10.4"/><text y="2.8">(2, -1)</text></g>
<g id="n3_-1" transform="translate(458.25,880.5)"><ellipse rx="20.5" ry="10.4"/><text y="2.8">(3, -1)</text></g>
<g id="n4_-1" transform="translate(545.1,880.5)"><ellipse rx="20.5" ry="10.4"/><text y="2.8">(4, -1)</text></g>
<g id="n5_-1" transform="translate(631.95,880.5)"><ellipse rx="20.5" ry="10.4"/><text y="2.8">(5, -1)</text></g>
<g id="n6_-1" transform="translate(718.8,880.5)"><ellipse rx="20.5" ry="10.4"/><text y="2.8">(6, -1)</text></g>
<g id="n7_-1" transform="translate(805.65,880.5)"><ellipse rx="20.5" ry="10.4"/><text y="2.8">(7, -1)</text></g>
<g id="n8_-1" transform="translate(892.5,880.5)"><ellipse rx="20.5" ry="10.4"/><text y="2.8">(8, -1)</text></g>
<g id="n9_-1" transform="translate(979.35,880.5)"><ellipse rx="20.5" ry="10.4"/><text y="2.8">(9, -1)</text></g>
<g id="n-1_-2" transform="translate(110.85,967.2)"><ellipse rx="22" ry="10.4"/><text y="2.8">(-1, -2)</text></g>
<g id="n0_-2" transform="translate(197.7,967.2)"><ellipse rx="20.5" ry="10.4"/><text y="2.8">(0, -2)</text></g>
<g id="n1_-2" transform="translate(284.55,967.2)"><ellipse rx="20.5" ry="10.4"/><text y="2.8">(1, -2)</text></g>
<g id="n2_-2" transform="translate(371.4,967.2)"><ellipse rx="20.5" ry="10.4"/><text y="2.8">(2, -2)</text></g>
<g id="n3_-2" transform="translate(458.25,967.2)"><ellipse rx="20.5" ry="10.4"/><text y="2.8">(3, -2)</text></g>
<g id="n4_-2" transform="translate(545.1,967.2)"><ellipse rx="20.5" ry="10.4"/><text y="2.8">(4, -2)</text></g>
<g id="n5_-2" transform="translate(631.95,967.2)"><ellipse rx="20.5" ry="10.4"/><text y="2.8">(5, -2)</text></g>
<g id="n6_-2" transform="translate(718.8,967.2)"><ellipse rx="20.5" ry="10.4"/><text y="2.8">(6, -2)</text></g>
<g id="n7_-2" transform="translate(805.65,967.2)"><ellipse rx="20.5" ry="10.4"/><text y="2.8">(7, -2)</text></g>
<g id="n8_-2" transform="translate(892.5,967.2)"><ellipse rx="20.5" ry="10.4"/><text y="2.8">(8, -2)</text></g>
</g>
</svg>
